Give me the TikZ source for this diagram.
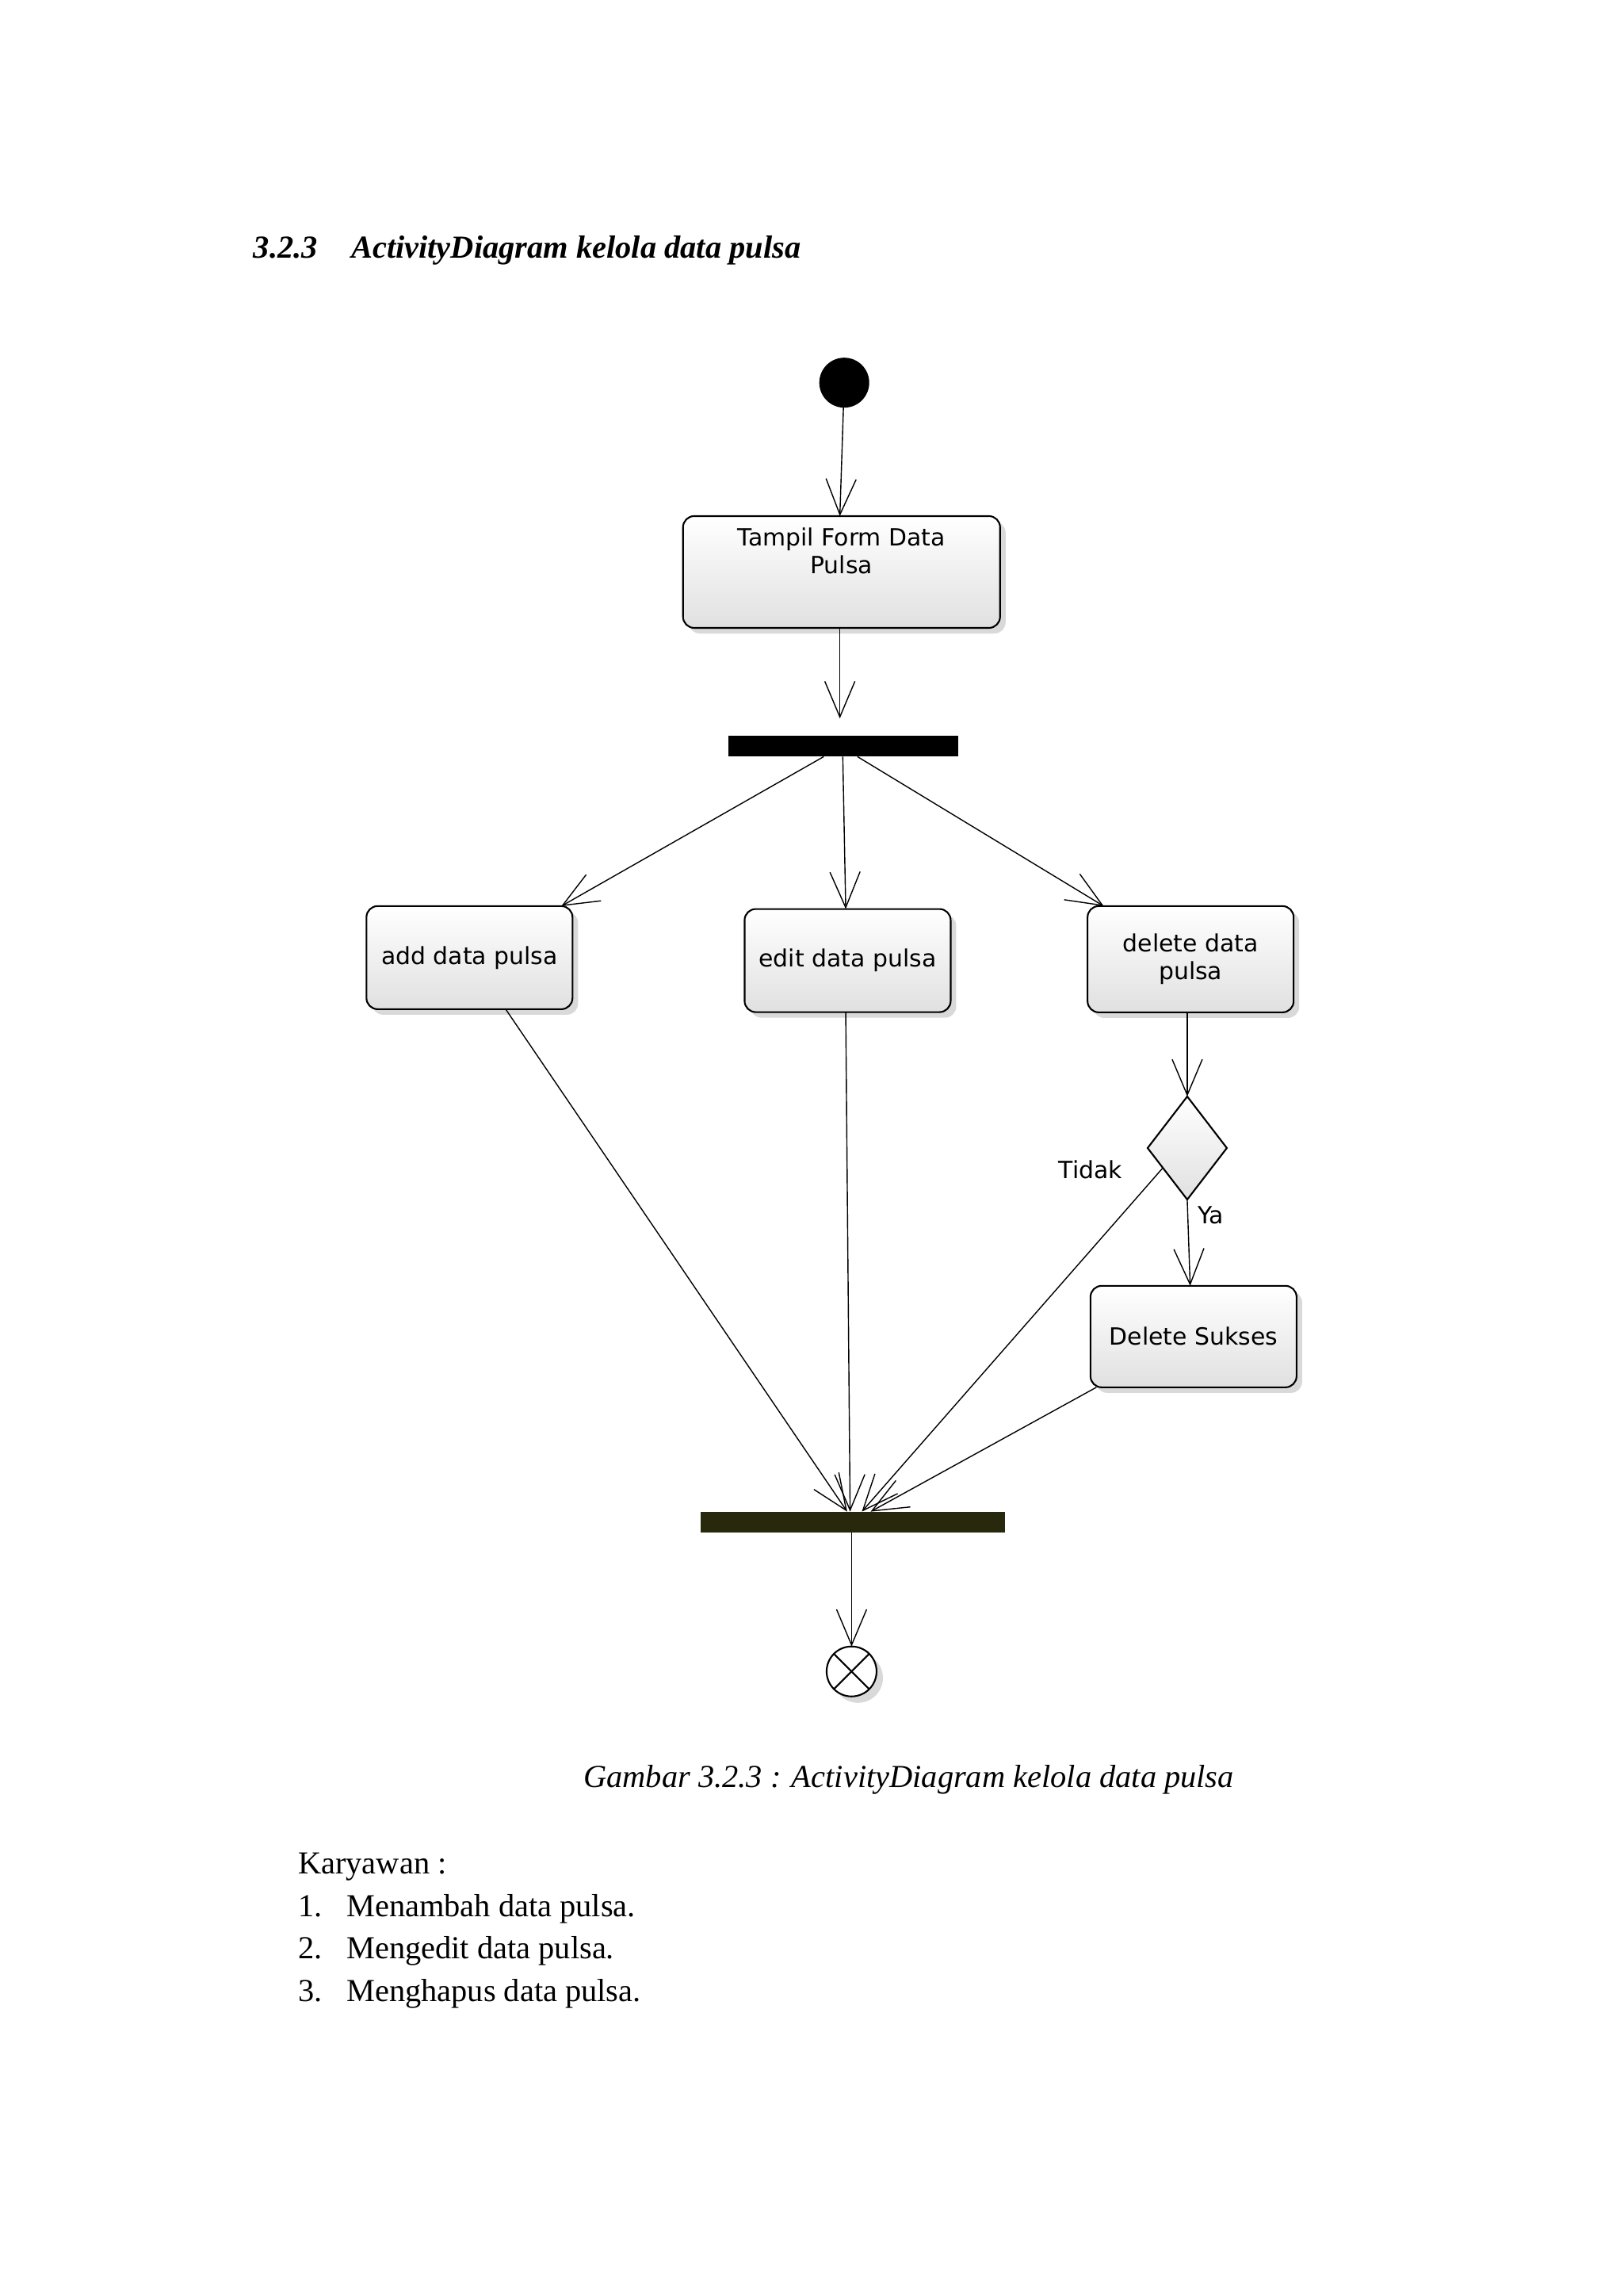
\documentclass[tikz,border=0pt]{standalone}
\usepackage{fontspec}
\setmainfont{Liberation Serif}
\newfontfamily\boxfont{DejaVu Sans}
\definecolor{joincolor}{RGB}{40,40,12}
\usetikzlibrary{arrows.meta, shadows, shapes.geometric, positioning}

\begin{document}
\begin{tikzpicture}[x=0.01849cm, y=-0.01849cm]
\tikzset{every node/.style={inner sep=1mm, outer sep=0mm}}

\tikzstyle{activity}=[rectangle, rounded corners=4pt, draw=black, semithick, top color=white, bottom color=black!12, drop shadow={opacity=0.3, shadow xshift=2pt, shadow yshift=-2pt}, font=\boxfont\fontsize{8.5}{10}\selectfont, align=center, anchor=north west]
\tikzstyle{bar}=[rectangle, draw=none, inner sep=0pt, anchor=north west]
\tikzstyle{flow}=[->, thin, >={Straight Barb[length=4.5mm, width=3.8mm]}]
\tikzstyle{label}=[font=\boxfont\fontsize{8.5}{10}\selectfont]

\useasboundingbox (0,0) rectangle (1108,1566);

\node[anchor=base west, inner sep=0pt, font=\bfseries\itshape\fontsize{11.5}{14}\selectfont] (title) at (173,176) {3.2.3\hspace{1.05em}ActivityDiagram kelola data pulsa};

\node[circle, fill=black, inner sep=0pt, minimum size=0.63cm] (start) at (576,261) {};

\node[activity, minimum width=4cm, minimum height=1.41cm] (tampil) at (466,352) {Tampil Form Data\\Pulsa\\\mbox{}\\[-1ex]};
\node[bar, fill=black, minimum width=2.9cm, minimum height=0.26cm] (fork) at (497,502) {};

\node[activity, minimum width=2.6cm, minimum height=1.3cm] (add) at (250,618) {add data pulsa};
\node[activity, minimum width=2.6cm, minimum height=1.3cm] (edit) at (508,620) {edit data pulsa};
\node[activity, minimum width=2.6cm, minimum height=1.34cm] (delete) at (742,618) {delete data\\pulsa};

\node[diamond, draw=black, semithick, top color=white, bottom color=black!12, minimum width=1.0cm, minimum height=1.3cm, inner sep=0pt] (decision) at (810,783) {};
\node[label] (tidak) at (744,798) {Tidak};
\node[label] (ya) at (826,829) {Ya};

\node[activity, minimum width=2.6cm, minimum height=1.28cm] (sukses) at (744,877) {Delete Sukses};

\node[bar, fill=joincolor, minimum width=3.84cm, minimum height=0.26cm] (join) at (478,1031) {};

\node[circle, draw=black, semithick, fill=white, drop shadow={opacity=0.3}, minimum size=0.63cm, inner sep=0pt] (end) at (581,1140) {};
\draw[semithick] (end.north west) -- (end.south east);
\draw[semithick] (end.north east) -- (end.south west);

% flows
\draw[flow] (start) -- (tampil.north -| 573,0);
\draw[flow] (tampil.south -| 573,0) -- (573,490);
\draw[flow] (fork.south -| 562,0) -- (add.north -| 383,0);
\draw[flow] (fork.south -| 575,0) -- (edit.north -| 577,0);
\draw[flow] (fork.south -| 585,0) -- (delete.north -| 753,0);
\draw[flow] (delete.south -| 810,0) -- (decision.north);
\draw[flow] (decision.south) -- (sukses.north -| 812,0);
\draw[flow] (add.south -| 345,0) -- (join.north -| 578,0);
\draw[flow] (edit.south -| 577,0) -- (join.north -| 580,0);
\draw[flow] (decision.west) ++(10,14) -- (join.north -| 588,0);
\draw[flow] (sukses.south -| 748,0) -- (join.north -| 594,0);
\draw[flow] (join.south -| 581,0) -- (end);

% text below
\node[anchor=base, font=\itshape\fontsize{11.5}{14}\selectfont] (caption) at (620,1219) {Gambar 3.2.3 : ActivityDiagram kelola data pulsa};
\node[anchor=base west, font=\fontsize{11.5}{14}\selectfont] (karyawan) at (198,1278) {Karyawan :};
\foreach \n/\t [count=\i] in {1/Menambah data pulsa., 2/Mengedit data pulsa., 3/Menghapus data pulsa.} {
  \node[anchor=base west, font=\fontsize{11.5}{14}\selectfont] (num \i) at (198,1278+29*\i) {\n.};
  \node[anchor=base west, font=\fontsize{11.5}{14}\selectfont] (item \i) at (231,1278+29*\i) {\t};
}
\end{tikzpicture}
\end{document}
